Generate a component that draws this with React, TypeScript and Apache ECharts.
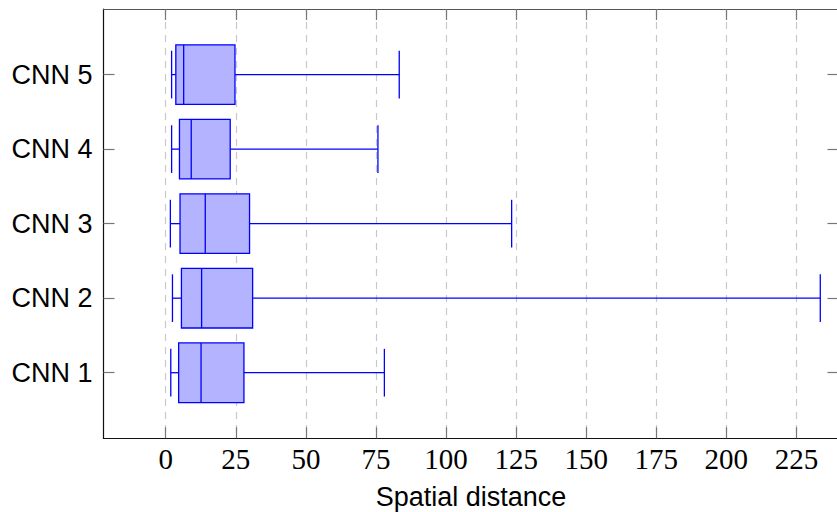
import React, { useEffect, useRef } from "react";
import * as echarts from "echarts";

const categories = ["CNN 1", "CNN 2", "CNN 3", "CNN 4", "CNN 5"];
const lowerWhisker = [1.8, 2.4, 1.65, 2.1, 2.1];
const lowerQuartile = [4.6, 5.6, 5.1, 4.9, 3.6];
const median = [12.6, 12.8, 14.1, 9.1, 6.4];
const upperQuartile = [27.9, 31.0, 29.9, 23.0, 24.7];
const upperWhisker = [78.0, 233.5, 123.4, 75.7, 83.3];
const xTicks = [0, 25, 50, 75, 100, 125, 150, 175, 200, 225];
const yTicks = [1, 2, 3, 4, 5];
const xAxisTitle = "Spatial distance";

const X_MIN = -22.2;
const X_MAX = 240;
const Y_MIN = 0.12;
const Y_MAX = 5.88;

const SERIF = "Liberation Serif";
const SANS = "Liberation Sans";

export default function App() {
  const ref = useRef<HTMLDivElement>(null);

  useEffect(() => {
    if (!ref.current) return;
    const chart = echarts.init(ref.current, undefined, { renderer: "svg" });

    const data = categories.map((_, i) => [
      yTicks[i],
      lowerWhisker[i],
      lowerQuartile[i],
      median[i],
      upperQuartile[i],
      upperWhisker[i],
    ]);

    const tickColor = "#777";

    const option: any = {
      animation: false,
      backgroundColor: "#ffffff",
      grid: {
        left: 103.5,
        right: -1.5,
        top: 9,
        bottom: 73.7,
        containLabel: false,
        outerBoundsMode: "none",
      },
      xAxis: [
        {
          type: "value",
          position: "bottom",
          min: X_MIN,
          max: X_MAX,
          axisLine: { show: true, onZero: false, lineStyle: { color: "#111", width: 1.2 } },
          axisTick: {
            show: true,
            inside: true,
            length: 11,
            customValues: xTicks,
            lineStyle: { color: tickColor, width: 1.2 },
          },
          axisLabel: {
            show: true,
            customValues: xTicks,
            margin: 6,
            color: "#000",
            fontFamily: SERIF,
            fontSize: 29,
            formatter: (v: number) => String(v),
          },
          splitLine: {
            show: true,
            lineStyle: { color: "#c8c8c8", width: 1.2, type: [7, 6] },
          },
          name: xAxisTitle,
          nameLocation: "middle",
          nameGap: 45,
          nameTextStyle: { color: "#000", fontFamily: SANS, fontSize: 27 },
        },
        {
          type: "value",
          position: "top",
          min: X_MIN,
          max: X_MAX,
          axisLine: { show: true, onZero: false, lineStyle: { color: "#555", width: 1.2 } },
          axisTick: {
            show: true,
            inside: true,
            length: 11,
            customValues: xTicks,
            lineStyle: { color: tickColor, width: 1.2 },
          },
          axisLabel: { show: false },
          splitLine: { show: false },
        },
      ],
      yAxis: [
        {
          type: "value",
          position: "left",
          min: Y_MIN,
          max: Y_MAX,
          axisLine: { show: true, onZero: false, lineStyle: { color: "#111", width: 1.2 } },
          axisTick: {
            show: true,
            inside: true,
            length: 11,
            customValues: yTicks,
            lineStyle: { color: tickColor, width: 1.2 },
          },
          axisLabel: {
            show: true,
            customValues: yTicks,
            margin: 11,
            color: "#000",
            fontFamily: SANS,
            fontSize: 27,
            formatter: (v: number) => categories[Math.round(v) - 1] ?? "",
          },
          splitLine: { show: false },
        },
        {
          type: "value",
          position: "right",
          min: Y_MIN,
          max: Y_MAX,
          axisLine: { show: true, onZero: false, lineStyle: { color: "#555", width: 1.2 } },
          axisTick: {
            show: true,
            inside: true,
            length: 11,
            customValues: yTicks,
            lineStyle: { color: tickColor, width: 1.2 },
          },
          axisLabel: { show: false },
          splitLine: { show: false },
        },
      ],
      series: [
        {
          type: "custom",
          xAxisIndex: 0,
          yAxisIndex: 0,
          clip: false,
          encode: { x: [1, 2, 3, 4, 5], y: 0 },
          data,
          renderItem: (_params: any, api: any) => {
            const pos = api.value(0);
            const lw = api.value(1);
            const q1 = api.value(2);
            const med = api.value(3);
            const q3 = api.value(4);
            const uw = api.value(5);
            const boxHalf = api.size([0, 0.8])[1] / 2;
            const capHalf = api.size([0, 0.64])[1] / 2;
            const pLw = api.coord([lw, pos]);
            const pQ1 = api.coord([q1, pos]);
            const pMed = api.coord([med, pos]);
            const pQ3 = api.coord([q3, pos]);
            const pUw = api.coord([uw, pos]);
            const y = pLw[1];
            const lineStyle = { stroke: "#0000ff", lineWidth: 1.3, fill: null };
            return {
              type: "group",
              children: [
                {
                  type: "line",
                  shape: { x1: pLw[0], y1: y, x2: pQ1[0], y2: y },
                  style: lineStyle,
                },
                {
                  type: "line",
                  shape: { x1: pQ3[0], y1: y, x2: pUw[0], y2: y },
                  style: lineStyle,
                },
                {
                  type: "line",
                  shape: { x1: pLw[0], y1: y - capHalf, x2: pLw[0], y2: y + capHalf },
                  style: lineStyle,
                },
                {
                  type: "line",
                  shape: { x1: pUw[0], y1: y - capHalf, x2: pUw[0], y2: y + capHalf },
                  style: lineStyle,
                },
                {
                  type: "rect",
                  shape: {
                    x: pQ1[0],
                    y: y - boxHalf,
                    width: pQ3[0] - pQ1[0],
                    height: boxHalf * 2,
                  },
                  style: { fill: "#b3b3ff", stroke: "#0000ff", lineWidth: 1.3 },
                },
                {
                  type: "line",
                  shape: { x1: pMed[0], y1: y - boxHalf, x2: pMed[0], y2: y + boxHalf },
                  style: lineStyle,
                },
              ],
            };
          },
        },
      ],
    };

    chart.setOption(option);
    return () => {
      chart.dispose();
    };
  }, []);

  return (
    <div
      ref={ref}
      style={{ position: "absolute", left: 0, top: 0, width: 837, height: 512 }}
    />
  );
}
